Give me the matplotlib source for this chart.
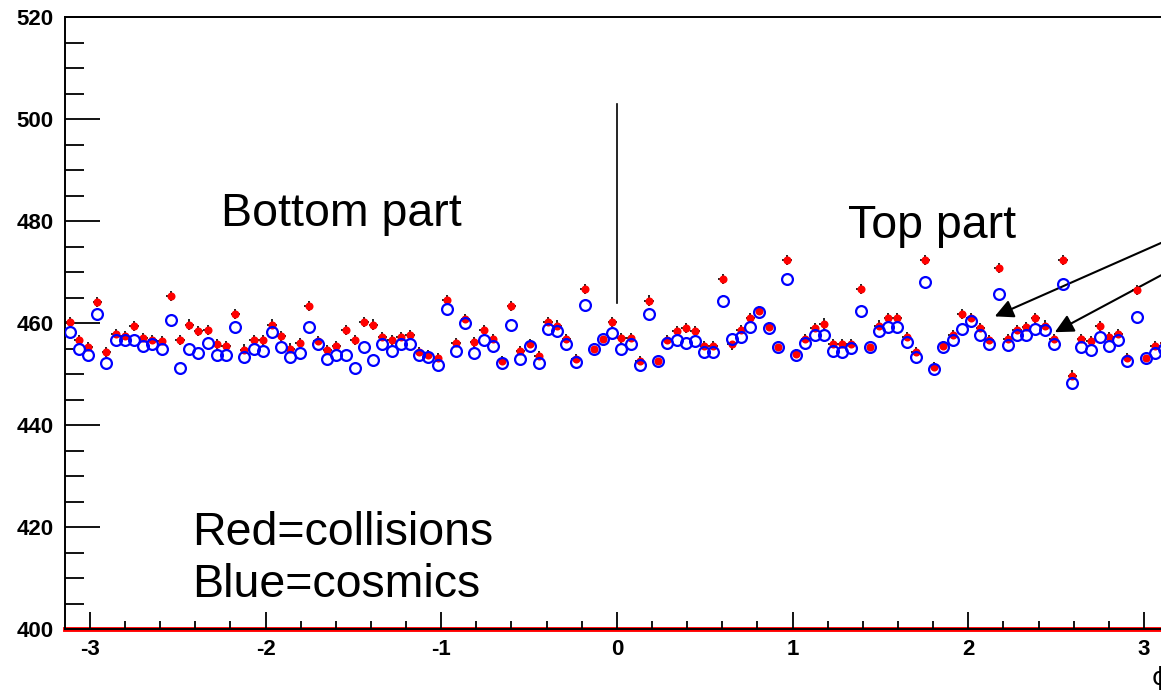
import numpy as np
import matplotlib
matplotlib.use("Agg")
import matplotlib.pyplot as plt
from matplotlib.ticker import MultipleLocator, FixedLocator

plt.rcParams['font.family'] = ['Liberation Sans', 'DejaVu Sans']
plt.rcParams['axes.unicode_minus'] = False

# ---- data ----
n_bins = 120
phi_min, phi_max = -np.pi, np.pi

red_collisions = [
    460.2, 456.6, 455.3, 464.1, 454.3, 457.9, 457.5, 459.4, 457.1, 456.6,
    456.4, 465.3, 456.6, 459.7, 458.5, 458.6, 455.8, 455.4, 461.7, 454.8,
    456.6, 456.6, 459.7, 457.4, 455.0, 456.1, 463.3, 456.4, 454.7, 455.4,
    458.6, 456.6, 460.2, 459.7, 457.3, 456.6, 457.3, 457.7, 454.3, 453.8,
    453.2, 464.5, 456.0, 460.7, 456.3, 458.6, 456.8, 452.5, 463.3, 454.5,
    455.8, 453.6, 460.2, 459.5, 456.8, 453.0, 466.7, 455.0, 456.9, 460.2,
    457.1, 457.1, 452.5, 464.4, 452.6, 456.6, 458.4, 459.0, 458.4, 455.4,
    455.4, 468.7, 455.8, 458.7, 461.0, 462.3, 459.2, 455.3, 472.3, 454.0,
    456.9, 459.0, 459.9, 455.8, 455.8, 455.8, 466.7, 455.3, 459.5, 461.0,
    461.0, 457.3, 454.3, 472.3, 451.4, 455.4, 457.7, 461.8, 461.0, 459.0,
    456.6, 470.8, 456.8, 458.7, 459.2, 461.0, 459.5, 456.8, 472.3, 449.7,
    456.9, 456.4, 459.4, 457.3, 457.9, 453.2, 466.4, 453.2, 455.4, 456.0,
]

blue_cosmics = [
    458.2, 454.9, 453.8, 461.7, 452.2, 456.6, 456.6, 456.6, 455.4, 455.9,
    454.9, 460.5, 451.1, 454.9, 454.1, 456.1, 453.7, 453.7, 459.2, 453.4,
    454.9, 454.6, 458.2, 455.3, 453.4, 454.1, 459.2, 455.8, 453.0, 453.8,
    453.8, 451.1, 455.3, 452.7, 455.8, 454.6, 455.8, 455.8, 453.8, 453.4,
    451.8, 462.8, 454.6, 460.0, 454.1, 456.6, 455.4, 452.2, 459.7, 453.0,
    455.4, 452.2, 458.9, 458.4, 455.8, 452.3, 463.6, 455.0, 456.8, 458.1,
    455.0, 455.8, 451.8, 461.7, 452.6, 456.1, 456.6, 456.1, 456.4, 454.3,
    454.3, 464.4, 456.8, 457.3, 459.2, 462.1, 459.0, 455.3, 468.7, 453.8,
    456.1, 457.7, 457.7, 454.5, 454.3, 455.1, 462.3, 455.3, 458.4, 459.2,
    459.2, 456.2, 453.4, 468.0, 451.0, 455.3, 456.6, 458.9, 460.4, 457.7,
    455.8, 465.7, 455.6, 457.7, 457.7, 458.9, 458.7, 455.8, 467.7, 448.2,
    455.3, 454.7, 457.3, 455.4, 456.6, 452.6, 461.2, 453.2, 454.1, 455.0,
]

y_err = 1.0

y_ticks = [400, 420, 440, 460, 480, 500, 520]
x_ticks = [-3, -2, -1, 0, 1, 2, 3]

bin_w = (phi_max - phi_min) / n_bins
phi = phi_min + (np.arange(n_bins) + 0.5) * bin_w

# ---- figure ----
W, H, DPI = 1161, 691, 100
fig = plt.figure(figsize=(W / DPI, H / DPI), dpi=DPI)
ax = fig.add_axes([65 / W, 62 / H, (1168.8 - 65) / W, (629 - 17) / H])

ax.set_xlim(phi_min, phi_max)
ax.set_ylim(400, 520)

# histogram-like red baseline at 400
ax.axhline(400, color='red', lw=3.5, zorder=1.5, clip_on=False)

# error bars (drawn underneath the markers)
ax.errorbar(phi, red_collisions, xerr=bin_w / 2, yerr=y_err, fmt='none',
            ecolor='black', elinewidth=1.2, capsize=0, zorder=2)
ax.errorbar(phi, blue_cosmics, xerr=bin_w / 2, yerr=y_err, fmt='none',
            ecolor='black', elinewidth=1.2, capsize=0, zorder=2)

# white interior of the open circles hides the error bars inside them
ax.plot(phi, blue_cosmics, 'o', mfc='white', mec='none', markersize=7.5,
        zorder=3)
# red filled markers
ax.plot(phi, red_collisions, 'o', color='red', markersize=5.8,
        markeredgewidth=0, zorder=4)
# blue open circles
ax.plot(phi, blue_cosmics, 'o', mfc='none', mec='#0000ff', markersize=7.8,
        markeredgewidth=1.6, zorder=5)

# separator line at phi = 0
ax.plot([0, 0], [464.0, 502.9], color='black', lw=1.2, zorder=2)

# annotations
ax.text(-2.253, 479.0, 'Bottom part', fontsize=33.5, ha='left', va='baseline')
ax.text(1.313, 476.7, 'Top part', fontsize=33.5, ha='left', va='baseline')
ax.text(-2.418, 416.5, 'Red=collisions', fontsize=33.5, ha='left', va='baseline')
ax.text(-2.418, 406.2, 'Blue=cosmics', fontsize=33.5, ha='left', va='baseline')

arrow_kw = dict(arrowstyle='-|>', color='black', lw=1.5, mutation_scale=28,
                shrinkA=0, shrinkB=0)
ax.annotate('', xy=(2.151, 461.3), xytext=(3.604, 483.4),
            arrowprops=arrow_kw, annotation_clip=False)
ax.annotate('', xy=(2.493, 458.2), xytext=(3.604, 478.7),
            arrowprops=arrow_kw, annotation_clip=False)

# axis styling (ROOT-like)
for s in ['left', 'top', 'bottom', 'right']:
    ax.spines[s].set_linewidth(1.4)
    ax.spines[s].set_color('black')
ax.spines['bottom'].set_zorder(6)

ax.xaxis.set_major_locator(FixedLocator(x_ticks))
ax.xaxis.set_minor_locator(MultipleLocator(0.2))
ax.yaxis.set_major_locator(FixedLocator(y_ticks))
ax.yaxis.set_minor_locator(MultipleLocator(5))

ax.tick_params(axis='both', which='both', direction='in', colors='black',
               top=False, right=False, width=1.3)
ax.tick_params(axis='y', which='major', length=25, pad=8)
ax.tick_params(axis='y', which='minor', length=13.5)
ax.tick_params(axis='x', which='major', length=12, pad=7)
ax.tick_params(axis='x', which='minor', length=6)

ax.set_xticklabels([str(t) for t in x_ticks], fontsize=16, fontweight='bold')
ax.set_yticklabels([str(t) for t in y_ticks], fontsize=16, fontweight='bold')

# axis title glyph, partly cut at the right edge as in the reference
fig.text(1152 / W, 1 - 678 / H, 'ϕ', fontsize=18, ha='left', va='center',
         family=['DejaVu Sans'])

fig.savefig('out.png', dpi=DPI)
